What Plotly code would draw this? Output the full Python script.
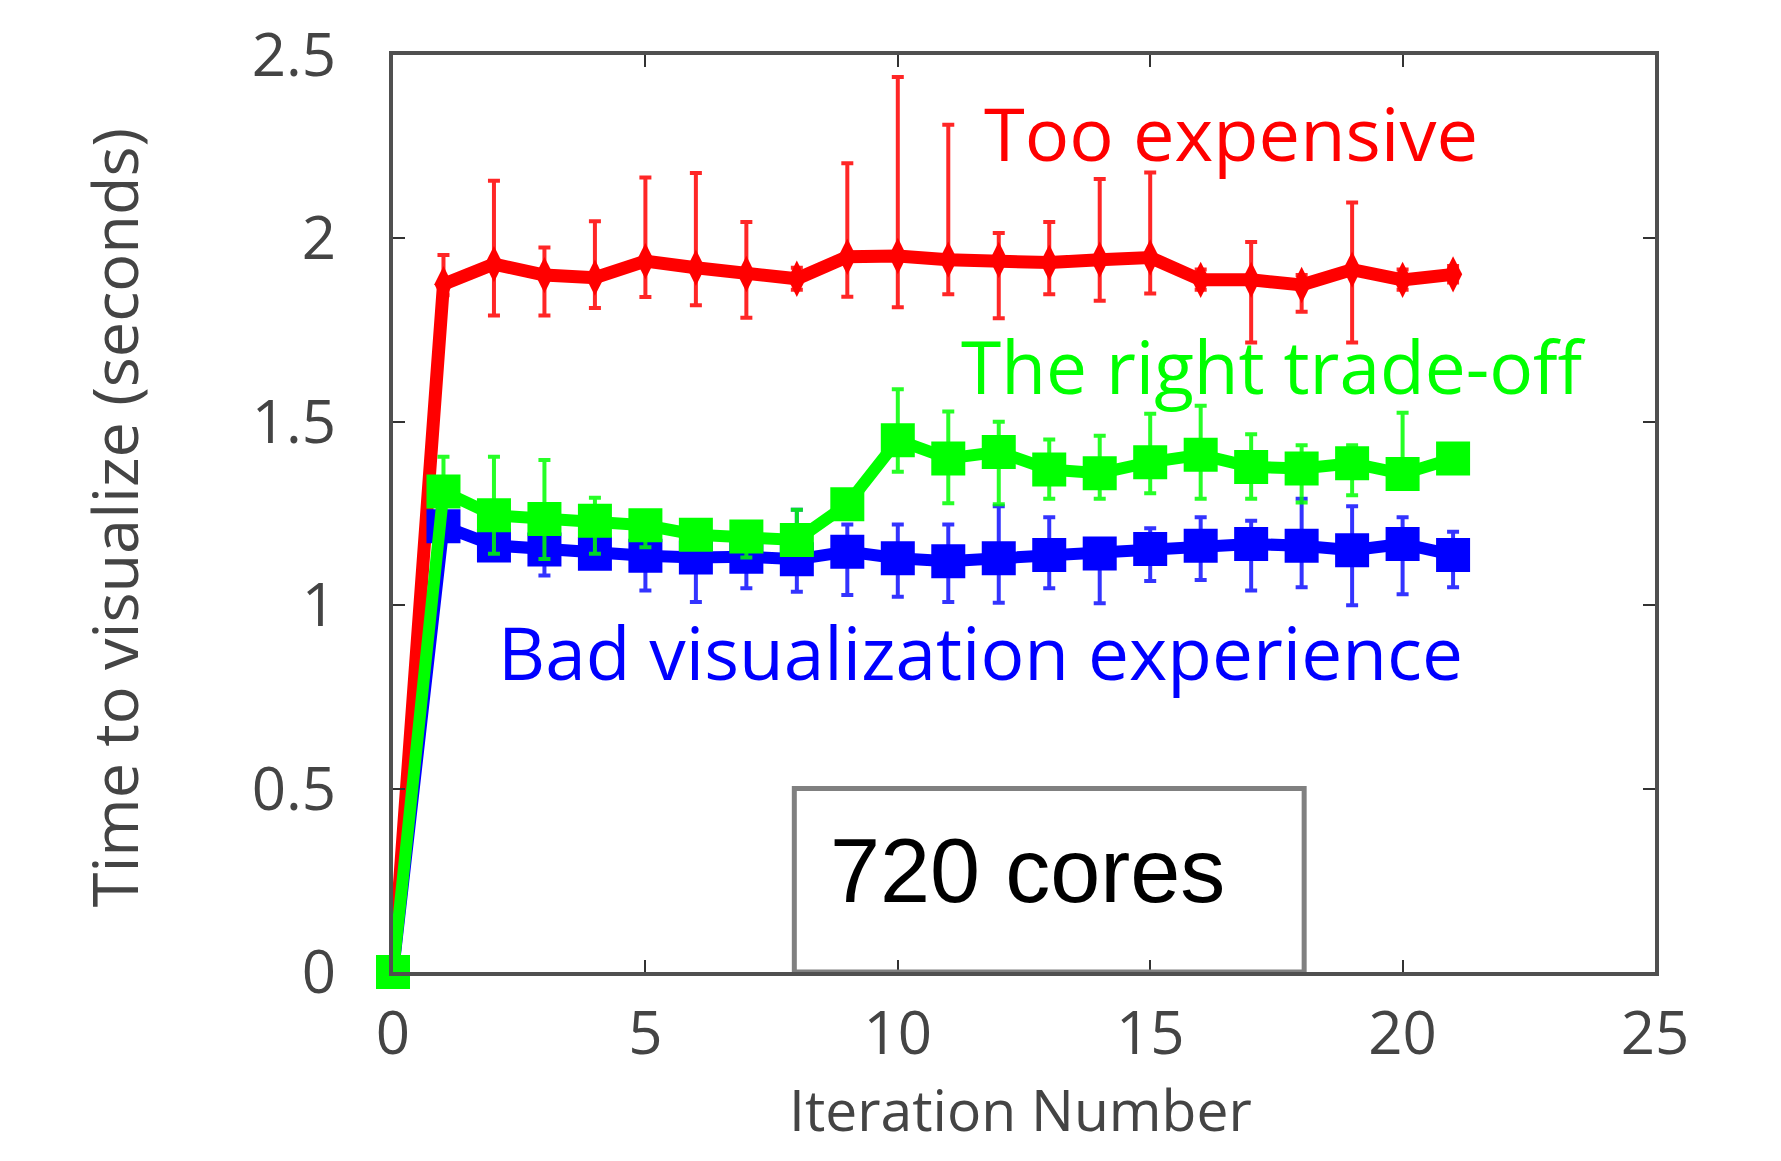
import plotly.graph_objects as go

iterations = list(range(22))

# Too expensive (red)
red_y = [0, 1.875, 1.93, 1.90, 1.893, 1.938, 1.92, 1.903, 1.89, 1.95, 1.952, 1.942, 1.941, 1.934, 1.942, 1.948, 1.887, 1.887, 1.873, 1.915, 1.887, 1.902]
red_hi = [0, 1.955, 2.157, 1.975, 2.047, 2.166, 2.178, 2.045, 1.92, 2.205, 2.44, 2.31, 2.015, 2.045, 2.162, 2.18, 1.915, 1.99, 1.90, 2.098, 1.915, 1.925]
red_lo = [0, 1.845, 1.79, 1.79, 1.81, 1.84, 1.818, 1.784, 1.86, 1.841, 1.812, 1.848, 1.782, 1.848, 1.83, 1.85, 1.86, 1.716, 1.80, 1.716, 1.86, 1.88]

# The right trade-off (green)
green_y = [0, 1.31, 1.245, 1.235, 1.23, 1.218, 1.192, 1.187, 1.178, 1.275, 1.45, 1.40, 1.418, 1.37, 1.36, 1.39, 1.41, 1.377, 1.373, 1.387, 1.358, 1.40]
green_hi = [0, 1.405, 1.405, 1.396, 1.293, 1.235, 1.20, 1.195, 1.26, 1.29, 1.589, 1.528, 1.50, 1.452, 1.462, 1.522, 1.544, 1.466, 1.436, 1.436, 1.525, 1.41]
green_lo = [0, 1.30, 1.14, 1.126, 1.14, 1.158, 1.18, 1.13, 1.16, 1.26, 1.364, 1.278, 1.275, 1.29, 1.29, 1.305, 1.29, 1.29, 1.28, 1.30, 1.35, 1.39]

# Bad visualization experience (blue)
blue_y = [0, 1.215, 1.163, 1.152, 1.14, 1.135, 1.13, 1.132, 1.125, 1.146, 1.128, 1.12, 1.128, 1.137, 1.141, 1.153, 1.162, 1.167, 1.162, 1.15, 1.167, 1.137]
blue_hi = [0, 1.24, 1.19, 1.18, 1.17, 1.16, 1.16, 1.16, 1.26, 1.22, 1.22, 1.22, 1.27, 1.24, 1.18, 1.21, 1.24, 1.23, 1.29, 1.27, 1.24, 1.20]
blue_lo = [0, 1.19, 1.13, 1.081, 1.11, 1.04, 1.009, 1.046, 1.037, 1.028, 1.023, 1.009, 1.007, 1.046, 1.005, 1.066, 1.069, 1.04, 1.049, 1.0, 1.03, 1.049]

x_ticks = [0, 5, 10, 15, 20, 25]
y_ticks = [0, 0.5, 1, 1.5, 2, 2.5]


def err(y, hi, lo, color):
    return dict(type="data", symmetric=False,
                array=[h - v for h, v in zip(hi, y)],
                arrayminus=[v - l for v, l in zip(y, lo)],
                color=color, thickness=4, width=6)


fig = go.Figure()
fig.add_trace(go.Scatter(
    x=iterations, y=red_y, mode="lines+markers",
    line=dict(color="#ff0000", width=13),
    marker=dict(symbol="diamond-tall", size=26, color="#ff0000"),
    error_y=err(red_y, red_hi, red_lo, "rgba(255,0,0,0.85)"),
    showlegend=False))
fig.add_trace(go.Scatter(
    x=iterations, y=blue_y, mode="lines+markers",
    line=dict(color="#0000ff", width=12),
    marker=dict(symbol="square", size=34, color="#0000ff"),
    error_y=err(blue_y, blue_hi, blue_lo, "rgba(0,0,255,0.8)"),
    showlegend=False))
fig.add_trace(go.Scatter(
    x=iterations, y=green_y, mode="lines+markers", cliponaxis=False,
    line=dict(color="#00ff00", width=12),
    marker=dict(symbol="square", size=34, color="#00ff00"),
    error_y=err(green_y, green_hi, green_lo, "rgba(0,255,0,0.85)"),
    showlegend=False))

# 720 cores box
fig.add_shape(type="rect", xref="x", yref="y", x0=7.95, x1=18.05, y0=0, y1=0.5,
              line=dict(color="#808080", width=5), fillcolor="rgba(0,0,0,0)", layer="above")

label_font = "Open Sans"
fig.add_annotation(x=16.61, y=2.288, xref="x", yref="y", text="Too expensive", showarrow=False,
                   xanchor="center", yanchor="middle",
                   font=dict(family=label_font, size=74, color="#ff0000"))
fig.add_annotation(x=17.45, y=1.653, xref="x", yref="y", text="The right trade-off", showarrow=False,
                   xanchor="center", yanchor="middle",
                   font=dict(family=label_font, size=73, color="#00ff00"))
fig.add_annotation(x=11.64, y=0.873, xref="x", yref="y", text="Bad visualization experience", showarrow=False,
                   xanchor="center", yanchor="middle",
                   font=dict(family=label_font, size=73, color="#0000ff"))
fig.add_annotation(x=12.56, y=0.275, xref="x", yref="y", text="720 cores", showarrow=False,
                   xanchor="center", yanchor="middle",
                   font=dict(family="Liberation Sans", size=90, color="#000000"))

# axis titles
fig.add_annotation(x=-0.2217, y=0.495, xref="paper", yref="paper", text="Time to visualize (seconds)",
                   textangle=-90, showarrow=False, xanchor="center", yanchor="middle",
                   font=dict(family=label_font, size=63, color="#444444"))
fig.add_annotation(x=0.497, y=-0.149, xref="paper", yref="paper", text="Iteration Number",
                   showarrow=False, xanchor="center", yanchor="middle",
                   font=dict(family=label_font, size=57, color="#444444"))

axis_common = dict(showgrid=False, zeroline=False, showline=True, linewidth=4,
                   linecolor="#505050", mirror="ticks", ticks="inside", ticklen=12,
                   tickwidth=2, tickcolor="#333333",
                   tickfont=dict(family=label_font, size=60, color="#444444"))

fig.update_xaxes(range=[0, 25], tickvals=x_ticks, ticklabelstandoff=6, **axis_common)
fig.update_yaxes(range=[0, 2.5], tickvals=y_ticks, ticklabelstandoff=41, **axis_common)

fig.update_layout(width=1781, height=1161,
                  margin=dict(l=393, r=126, t=55, b=189),
                  plot_bgcolor="white", paper_bgcolor="white")

fig.write_html("out.html", config={"displayModeBar": False},
               post_script="document.body.style.margin='0';")
